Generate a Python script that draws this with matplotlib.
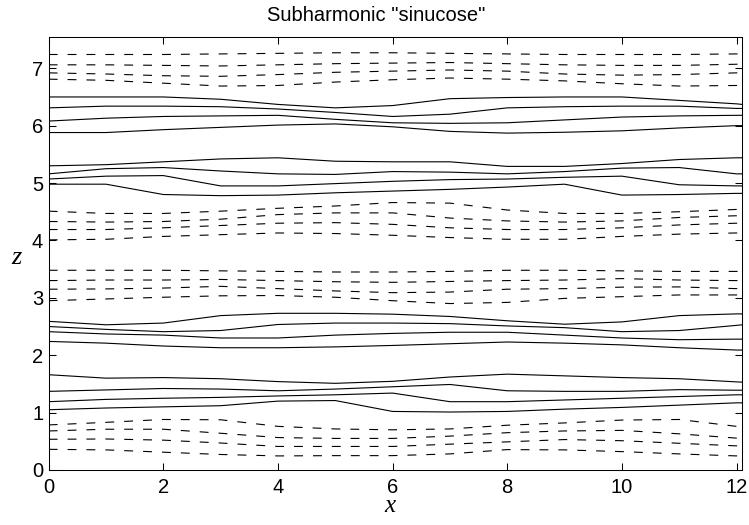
import matplotlib.pyplot as plt

# sample positions along x shared by every contour line
x = [0, 1, 2, 3, 4, 5, 6, 7, 8, 9, 10, 11, 12, 12.1]

# dashed contours (negative levels), bottom to top
dashed = [
    [0.36, 0.35, 0.31, 0.27, 0.245, 0.25, 0.25, 0.28, 0.355, 0.35, 0.32, 0.28, 0.245, 0.245],
    [0.535, 0.54, 0.52, 0.47, 0.41, 0.41, 0.41, 0.45, 0.49, 0.53, 0.51, 0.465, 0.42, 0.42],
    [0.68, 0.71, 0.71, 0.64, 0.565, 0.55, 0.55, 0.59, 0.65, 0.68, 0.69, 0.63, 0.555, 0.55],
    [0.785, 0.83, 0.88, 0.875, 0.76, 0.715, 0.70, 0.715, 0.78, 0.82, 0.87, 0.88, 0.76, 0.745],
    [2.95, 2.98, 3.01, 3.035, 3.04, 3.01, 2.95, 2.90, 2.92, 2.99, 3.02, 3.05, 3.05, 3.05],
    [3.15, 3.155, 3.17, 3.20, 3.16, 3.12, 3.09, 3.10, 3.15, 3.16, 3.186, 3.19, 3.16, 3.16],
    [3.30, 3.31, 3.31, 3.32, 3.30, 3.28, 3.27, 3.285, 3.30, 3.31, 3.335, 3.31, 3.30, 3.30],
    [3.48, 3.48, 3.48, 3.47, 3.46, 3.45, 3.45, 3.46, 3.48, 3.48, 3.47, 3.46, 3.46, 3.46],
    [4.01, 4.02, 4.07, 4.10, 4.13, 4.12, 4.09, 4.05, 4.02, 4.02, 4.07, 4.11, 4.13, 4.13],
    [4.19, 4.19, 4.22, 4.26, 4.30, 4.31, 4.28, 4.22, 4.19, 4.19, 4.22, 4.27, 4.30, 4.30],
    [4.33, 4.32, 4.33, 4.37, 4.45, 4.48, 4.48, 4.39, 4.34, 4.32, 4.34, 4.40, 4.43, 4.44],
    [4.51, 4.47, 4.47, 4.51, 4.56, 4.60, 4.66, 4.65, 4.53, 4.47, 4.47, 4.50, 4.54, 4.55],
    [6.81, 6.79, 6.74, 6.69, 6.70, 6.76, 6.80, 6.83, 6.81, 6.78, 6.73, 6.69, 6.70, 6.70],
    [6.92, 6.90, 6.87, 6.86, 6.89, 6.93, 6.95, 6.97, 6.95, 6.90, 6.88, 6.89, 6.92, 6.92],
    [7.06, 7.06, 7.05, 7.04, 7.06, 7.08, 7.09, 7.10, 7.08, 7.06, 7.05, 7.05, 7.07, 7.08],
    [7.24, 7.24, 7.24, 7.25, 7.26, 7.27, 7.27, 7.26, 7.25, 7.24, 7.24, 7.24, 7.25, 7.25],
]

# solid contours (positive levels), bottom to top
solid = [
    [1.05, 1.08, 1.10, 1.12, 1.20, 1.21, 1.02, 1.01, 1.02, 1.06, 1.09, 1.13, 1.17, 1.17],
    [1.19, 1.23, 1.25, 1.265, 1.29, 1.31, 1.34, 1.19, 1.19, 1.22, 1.25, 1.28, 1.31, 1.31],
    [1.37, 1.395, 1.42, 1.41, 1.38, 1.41, 1.45, 1.49, 1.38, 1.37, 1.37, 1.40, 1.39, 1.39],
    [1.66, 1.60, 1.61, 1.59, 1.54, 1.51, 1.545, 1.62, 1.67, 1.64, 1.61, 1.59, 1.535, 1.53],
    [2.24, 2.21, 2.16, 2.13, 2.13, 2.145, 2.17, 2.20, 2.23, 2.21, 2.18, 2.13, 2.09, 2.09],
    [2.41, 2.37, 2.35, 2.30, 2.30, 2.35, 2.38, 2.40, 2.40, 2.35, 2.30, 2.27, 2.28, 2.28],
    [2.50, 2.45, 2.41, 2.43, 2.535, 2.56, 2.56, 2.55, 2.51, 2.48, 2.41, 2.43, 2.52, 2.53],
    [2.59, 2.53, 2.56, 2.69, 2.73, 2.73, 2.715, 2.675, 2.60, 2.54, 2.58, 2.69, 2.72, 2.72],
    [4.98, 4.98, 4.80, 4.78, 4.79, 4.83, 4.86, 4.89, 4.93, 4.98, 4.79, 4.80, 4.82, 4.82],
    [5.07, 5.12, 5.13, 4.95, 4.95, 4.99, 5.03, 5.06, 5.07, 5.10, 5.12, 4.97, 4.95, 4.95],
    [5.16, 5.25, 5.27, 5.21, 5.16, 5.15, 5.20, 5.19, 5.16, 5.20, 5.26, 5.27, 5.16, 5.16],
    [5.30, 5.32, 5.37, 5.42, 5.44, 5.38, 5.37, 5.37, 5.29, 5.29, 5.34, 5.41, 5.44, 5.44],
    [5.88, 5.88, 5.93, 5.97, 6.01, 6.03, 5.98, 5.90, 5.87, 5.885, 5.91, 5.96, 6.00, 6.00],
    [6.08, 6.13, 6.16, 6.17, 6.18, 6.11, 6.05, 6.04, 6.05, 6.10, 6.15, 6.17, 6.18, 6.18],
    [6.31, 6.34, 6.34, 6.33, 6.29, 6.23, 6.16, 6.20, 6.31, 6.33, 6.34, 6.34, 6.30, 6.30],
    [6.50, 6.50, 6.50, 6.46, 6.37, 6.31, 6.35, 6.47, 6.49, 6.50, 6.50, 6.44, 6.38, 6.37],
]

xticks = [0, 2, 4, 6, 8, 10, 12]
zticks = [0, 1, 2, 3, 4, 5, 6, 7]

plt.rcParams['font.family'] = ['Liberation Sans', 'DejaVu Sans']

fig, ax = plt.subplots(figsize=(7.49, 5.25), dpi=100)
fig.subplots_adjust(left=0.065, right=0.991, bottom=0.1048, top=0.929)

for z in solid:
    ax.plot(x, z, color='k', lw=0.8)
for z in dashed:
    ax.plot(x, z, color='k', lw=0.8, dashes=(8, 9))

ax.set_xlim(0, 12.1)
ax.set_ylim(0, 7.54)
ax.set_xticks(xticks)
ax.set_yticks(zticks)
ax.tick_params(direction='in', length=5, width=0.75, labelsize=14.5,
               top=True, right=True)
ax.tick_params(axis='x', pad=6)
ax.tick_params(axis='y', pad=4)
for s in ax.spines.values():
    s.set_linewidth(0.75)

ax.set_title('Subharmonic "sinucose"', fontsize=14.5, pad=12, x=0.472)
ax.set_xlabel('x', fontsize=18, family='Liberation Serif', style='italic')
ax.set_ylabel('z', fontsize=19, family='Liberation Serif', style='italic', rotation=0)
ax.xaxis.label.set_va('baseline')
ax.xaxis.set_label_coords(0.492, -0.097)
ax.yaxis.label.set_va('center')
ax.yaxis.set_label_coords(-0.047, 0.49)

fig.savefig('out.png', dpi=100)
